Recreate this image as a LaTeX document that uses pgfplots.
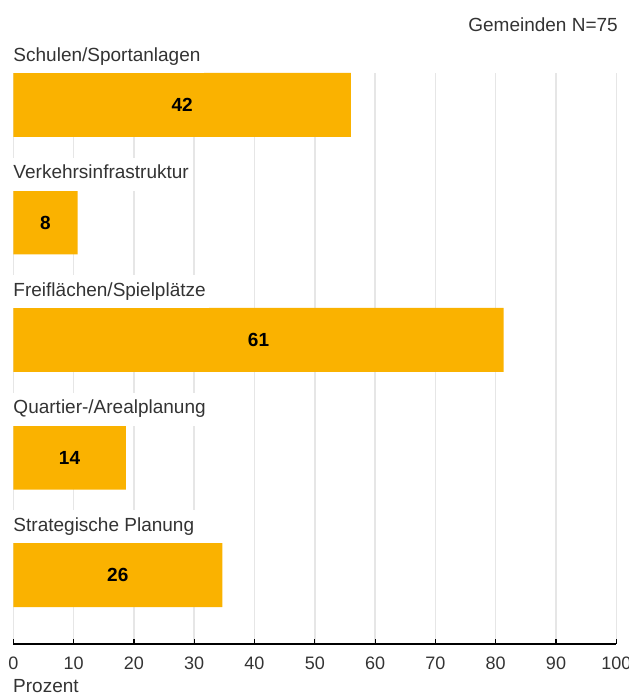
\documentclass[border=0pt]{standalone}
\usepackage{fontspec}
\setmainfont{Liberation Sans}
\usepackage{pgfplots}
\pgfplotsset{compat=1.18}
\usepackage{pgfplotstable}
\definecolor{baryellow}{RGB}{250,178,0}
\definecolor{txt}{HTML}{333333}
\definecolor{gridgray}{HTML}{E6E6E6}
\pgfplotstableread{
y pct half n
4 56.00 28.00 42
3 10.67 5.33 8
2 81.33 40.67 61
1 18.67 9.33 14
0 34.67 17.33 26
}\data
\newcommand{\fs}{\fontsize{18}{21}\selectfont}
\newcommand{\fl}{\fontsize{19}{22}\selectfont}
\begin{document}
\begin{tikzpicture}[font=\fl]
\useasboundingbox (0,0) rectangle (629pt,696pt);
\begin{axis}[
  at={(13.3pt,52pt)}, anchor=south west,
  scale only axis, width=603pt, height=571pt,
  xmin=0, xmax=100, ymin=-0.587, ymax=4.272,
  axis x line=bottom, axis y line=none,
  axis line style={-, black, line width=1.2pt},
  xtick={0,10,...,100}, ytick=\empty,
  tick align=inside, major tick length=5pt,
  tick style={black, line width=1.2pt},
  xmajorgrids, grid style={gridgray, line width=1.5pt},
  tick label style={font=\fs, text=txt},
  xticklabel style={anchor=base, yshift=-25pt},
  /pgf/number format/assume math mode=true,
  clip=false,
]
\addplot[xbar, bar width=64pt, fill=baryellow, draw=none] table[x=pct, y=y] \data;
\addplot[only marks, mark=none, nodes near coords, point meta=explicit symbolic,
  every node near coord/.append style={anchor=center, font=\fl\bfseries, text=black}]
  table[x=half, y=y, meta=n] \data;
\tikzset{cat/.style={anchor=base west, inner xsep=0pt, inner ysep=0pt, fill=white, text depth=12pt, text height=21pt, text=txt, font=\fl}}
\node[cat] at (axis cs:0,4.374) {Schulen/Sportanlagen\,};
\node[cat] at (axis cs:0,3.374) {Verkehrsinfrastruktur\,};
\node[cat] at (axis cs:0,2.374) {Freiflächen/Spielplätze\,};
\node[cat] at (axis cs:0,1.374) {Quartier-/Arealplanung\,};
\node[cat] at (axis cs:0,0.374) {Strategische Planung\,};
\end{axis}
\node[anchor=base east, inner sep=0pt, text=txt] at (618pt,664pt) {Gemeinden N=75};
\node[anchor=base west, inner sep=0pt, text=txt] at (13pt,3pt) {Prozent};
\end{tikzpicture}
\end{document}
